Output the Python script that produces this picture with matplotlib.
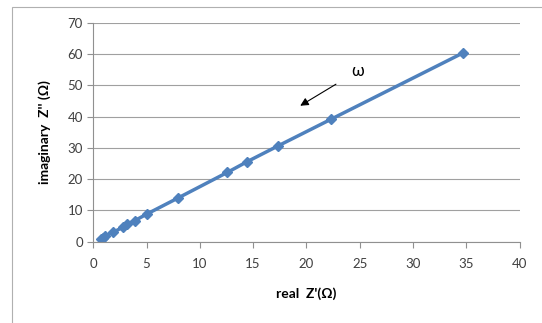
import matplotlib
matplotlib.use("Agg")
import matplotlib.pyplot as plt
from matplotlib.patches import Rectangle

# Nyquist data: real and imaginary impedance (ohm)
z_real = [0.75, 0.95, 1.14, 1.85, 2.76, 3.18, 3.89, 5.03, 7.95, 12.59, 14.44, 17.32, 22.29, 34.74]
z_imag = [0.85, 1.3, 1.92, 2.98, 4.58, 5.54, 6.71, 8.84, 13.96, 22.16, 25.57, 30.58, 39.10, 60.41]

x_ticks = [0, 5, 10, 15, 20, 25, 30, 35, 40]
y_ticks = [0, 10, 20, 30, 40, 50, 60, 70]

plt.rcParams['font.family'] = ['Lato', 'DejaVu Sans']

fig = plt.figure(figsize=(5.42, 3.23), dpi=100)
fig.patch.set_facecolor('white')

# chart area frame
W, H = 542, 323
fig.patches.append(Rectangle((12 / W, -0.1), 1.2, (H - 7) / H + 0.1,
                             transform=fig.transFigure, fill=False,
                             edgecolor='#b0b0b0', linewidth=0.8))

ax = fig.add_axes([0.172, 0.2517, 0.9585 - 0.172, 0.9297 - 0.2517])
ax.plot(z_real, z_imag, color='#4F81BD', linewidth=2.5, marker='D',
        markersize=5.5, markerfacecolor='#4F81BD', markeredgecolor='#4F81BD')

ax.set_xlim(0, 40)
ax.set_ylim(0, 70)
ax.set_xticks(x_ticks)
ax.set_yticks(y_ticks)
ax.tick_params(axis='both', labelsize=9.5, colors='#404040', length=4,
               width=0.8, color='#909090', direction='out')
ax.tick_params(axis='x', pad=8)
ax.yaxis.grid(True, color='#a0a0a0', linewidth=0.8)
ax.set_axisbelow(True)
for s in ['top', 'right']:
    ax.spines[s].set_visible(False)
for s in ['left', 'bottom']:
    ax.spines[s].set_color('#909090')
    ax.spines[s].set_linewidth(0.8)

ax.set_xlabel("real  Z'(Ω)", fontsize=10, fontweight='bold', labelpad=12)
ax.set_ylabel("imaginary  Z'' (Ω)", fontsize=10, fontweight='bold', labelpad=12)

ax.annotate('', xy=(19.2, 43.0), xytext=(23.0, 50.8),
            arrowprops=dict(arrowstyle='-|>', color='black', lw=0.8,
                            mutation_scale=12))
ax.text(24.8, 54.6, 'ω', fontsize=12, ha='center', va='center')

fig.savefig('out.png', dpi=100)
